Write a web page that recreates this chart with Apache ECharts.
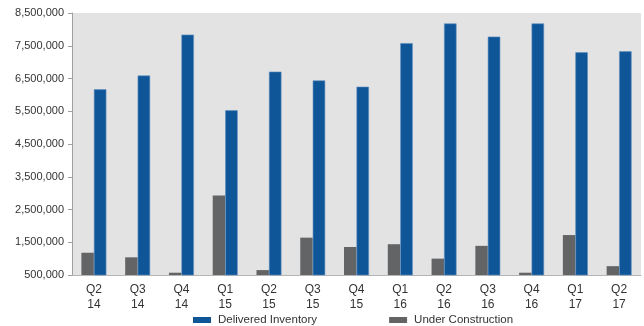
<!DOCTYPE html>
<html>
<head>
<meta charset="utf-8">
<script src="https://cdn.jsdelivr.net/npm/echarts@6/dist/echarts.min.js"></script>
<style>html,body{margin:0;padding:0;background:#fff}#c{width:644px;height:326px}</style>
</head>
<body>
<div id="c"></div>
<script>
const categories = ["Q2\n14","Q3\n14","Q4\n14","Q1\n15","Q2\n15","Q3\n15","Q4\n15","Q1\n16","Q2\n16","Q3\n16","Q4\n16","Q1\n17","Q2\n17"];
const delivered = [6170000,6590000,7840000,5530000,6710000,6440000,6250000,7580000,8180000,7780000,8180000,7300000,7330000];
const underConstruction = [1180000,1040000,570000,2930000,650000,1640000,1355000,1440000,1000000,1390000,570000,1720000,770000];
const yMin = 500000, yMax = 8500000, yStep = 1000000;

const chart = echarts.init(document.getElementById('c'), null, {renderer:'canvas'});
const font = 'Liberation Sans';
chart.setOption({
  animation: false,
  textStyle: {fontFamily: font},
  grid: {left: 72, right: 3, top: 13, bottom: 51, backgroundColor: '#e3e3e3', show: true, borderWidth: 0},
  legend: {
    data: ['Delivered Inventory', 'Under Construction'],
    left: 188, top: 309,
    itemWidth: 18, itemHeight: 6, itemGap: 72,
    icon: 'rect',
    itemStyle: {borderWidth: 0},
    textStyle: {fontFamily: font, fontSize: 11.5, color: '#333', padding: [0,0,0,2]}
  },
  xAxis: {
    type: 'category',
    data: categories,
    axisLine: {lineStyle: {color: '#b5b5b5', width: 1}},
    axisTick: {show: false},
    axisLabel: {fontFamily: font, fontSize: 12, color: '#333', lineHeight: 15, margin: 7},
    splitLine: {show: false}
  },
  yAxis: {
    type: 'value',
    min: yMin, max: yMax, interval: yStep,
    axisLine: {show: true, lineStyle: {color: '#a0a0a0'}},
    axisTick: {show: true, inside: false, length: 4, lineStyle: {color: '#a0a0a0'}},
    axisLabel: {fontFamily: font, fontSize: 11, color: '#333', margin: 8,
      formatter: v => v.toLocaleString('en-US')},
    splitLine: {show: false}
  },
  series: [
    {name: 'Under Construction', type: 'bar', data: underConstruction, barWidth: '28.5%', barGap: '0%',
     itemStyle: {color: '#636466'}},
    {name: 'Delivered Inventory', type: 'bar', data: delivered, barWidth: '28.5%', barGap: '0%',
     itemStyle: {color: '#0f5699', borderColor: '#5f8fc0', borderWidth: 0.6}}
  ]
});
</script>
</body>
</html>
